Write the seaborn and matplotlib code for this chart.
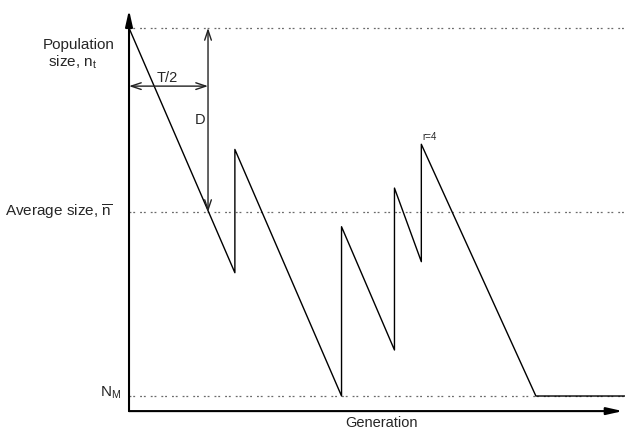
import matplotlib
matplotlib.use("Agg")
from matplotlib import pyplot as plt
import seaborn as sns
import pandas as pd

# sawtooth trajectory of population size (generations, relative size)
generation = [0, 13.4, 13.4, 26.9, 26.9, 33.6, 33.6, 37.0, 37.0, 51.5, 62.8]
pop_size = [100, 33.5, 67.0, 0, 46.0, 12.5, 56.5, 36.5, 68.4, 0, 0]

# reference levels
level_top = 100
level_avg = 50
level_min = 0

half_period = 10  # T/2 in generations

sns.set_theme(style="white")
plt.rcParams['font.family'] = ['Liberation Sans', 'DejaVu Sans']
plt.rcParams['mathtext.fontset'] = 'custom'
plt.rcParams['mathtext.rm'] = 'Liberation Sans'
plt.rcParams['mathtext.it'] = 'Liberation Sans'

df = pd.DataFrame({'generation': generation, 'size': pop_size})

fig = plt.figure(figsize=(6.25, 4.33), dpi=100)
ax = fig.add_axes([0, 0, 1, 1])
ax.set_xlim(-16.33, 62.78)
ax.set_ylim(-10.05, 107.6)
ax.axis('off')

# dotted reference levels
for lev in [level_top, level_avg, level_min]:
    ax.plot([0, 62.78], [lev, lev], color='#6a6a6a', lw=0.9,
            linestyle=(0, (1.5, 1.5, 1.5, 4)), zorder=1)

sns.lineplot(data=df, x='generation', y='size', estimator=None, sort=False,
             color='black', lw=1.0, ax=ax, zorder=3)

# axes with arrows
axis_arrow = dict(arrowstyle='-|>,head_length=0.8,head_width=0.18',
                  color='black', lw=1.5, shrinkA=0, shrinkB=0)
ax.annotate('', xy=(0, 104.9), xytext=(0, -4.1), arrowprops=axis_arrow)
ax.annotate('', xy=(62.5, -4.1), xytext=(0, -4.1), arrowprops=axis_arrow)

# T/2 and D markers
marker_arrow = dict(arrowstyle='<->,head_length=0.6,head_width=0.2',
                    color='#222222', lw=1.0, shrinkA=0, shrinkB=0)
ax.annotate('', xy=(half_period, 84.2), xytext=(0, 84.2), arrowprops=marker_arrow)
ax.annotate('', xy=(half_period, level_top), xytext=(half_period, level_avg),
            arrowprops=marker_arrow)
ax.text(4.8, 86.3, 'T/2', ha='center', va='center', fontsize=10.5)
ax.text(9.0, 75, 'D', ha='center', va='center', fontsize=10.5)
ax.text(38.0, 70.4, 'r=4', ha='center', va='center', fontsize=7)

# axis labels
ax.text(-10.9, 95.4, 'Population', ha='left', va='center', fontsize=11)
ax.text(-10.3, 90.6, r'size, n$_\mathrm{t}$', ha='left', va='center', fontsize=11)
ax.text(-2.15, level_avg, r'Average size, $\overline{\mathrm{n}}$', ha='right',
        va='center', fontsize=11)
ax.text(-1.0, level_min + 0.8, r'N$_\mathrm{M}$', ha='right', va='center', fontsize=11)
ax.text(31.9, -7.3, 'Generation', ha='center', va='center', fontsize=10.5)

fig.savefig('out.png', dpi=100)
